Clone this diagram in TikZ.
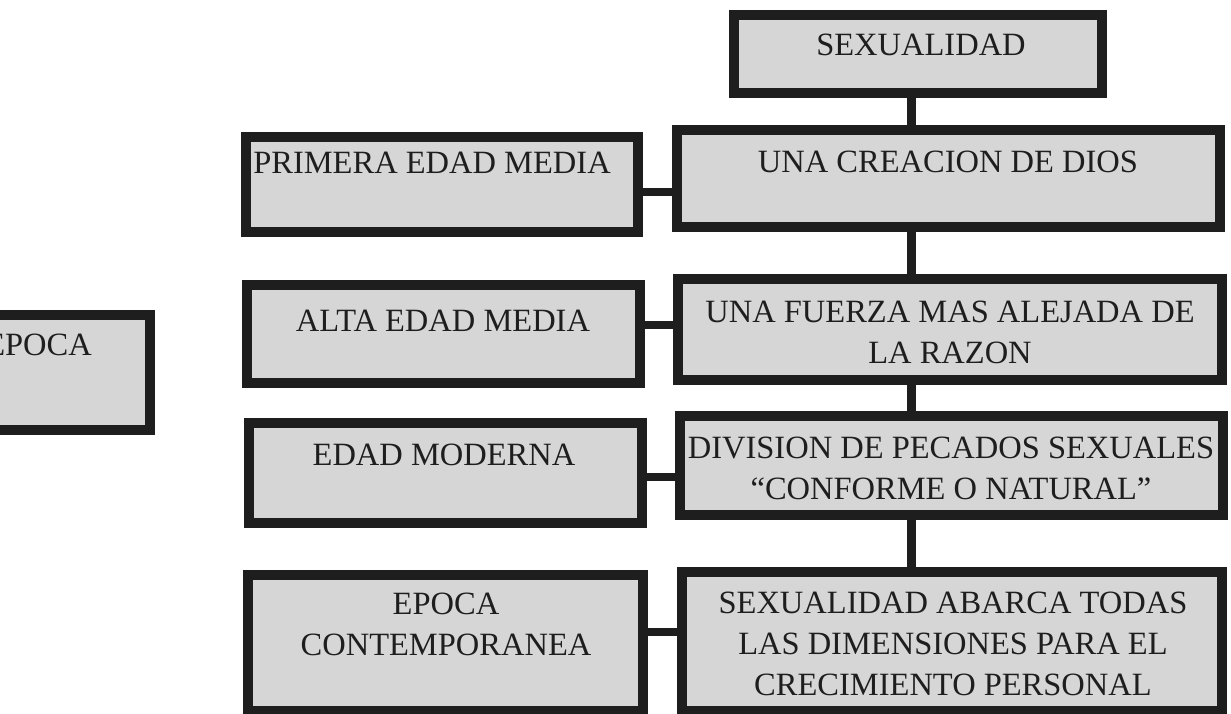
\documentclass[tikz,border=0pt]{standalone}
\usepackage{fontspec}
\setmainfont{Liberation Serif}
\definecolor{boxfill}{RGB}{214,214,214}
\definecolor{ink}{RGB}{30,30,30}
\begin{document}
\begin{tikzpicture}[x=1pt,y=-1pt,
  framebox/.style={draw=ink,fill=boxfill,line width=10pt,rectangle,inner sep=0pt},
  boxtext/.style={inner sep=0pt,align=center,text=ink,font=\fontsize{32.5}{41}\selectfont},
  link/.style={draw=ink,line width=9pt}]
\useasboundingbox (0,0) rectangle (1231,714);
\clip (0,0) rectangle (1231,714);
% boxes (outer size = minimum size + 10)
\node[framebox,minimum width=368pt,minimum height=78pt] (sex) at (918,54) {};
\node[framebox,minimum width=543pt,minimum height=97pt] (una) at (948.5,178.5) {};
\node[framebox,minimum width=392pt,minimum height=95pt] (prim) at (442,184.5) {};
\node[framebox,minimum width=393pt,minimum height=98pt] (alta) at (443.5,334) {};
\node[framebox,minimum width=544pt,minimum height=101pt] (fuer) at (950,329.5) {};
\node[framebox,minimum width=393pt,minimum height=100pt] (mode) at (445.5,473) {};
\node[framebox,minimum width=543pt,minimum height=99pt] (divi) at (951.5,465.5) {};
\node[framebox,minimum width=395pt,minimum height=136pt] (cont) at (445.5,643) {};
\node[framebox,minimum width=540pt,minimum height=139pt] (abar) at (952,641.5) {};
\node[framebox,minimum width=295pt,minimum height=115pt] (epoc) at (2.5,372.5) {};
% texts
\node[boxtext,anchor=base] (tsex) at (921,56) {SEXUALIDAD};
\node[boxtext,anchor=base] (tuna) at (948,173) {UNA CREACION DE DIOS};
\node[boxtext,anchor=base] (tprim) at (432,174) {PRIMERA EDAD MEDIA};
\node[boxtext,anchor=base] (talta) at (443,331) {ALTA EDAD MEDIA};
\node[boxtext,anchor=base] (tmode) at (444,465) {EDAD MODERNA};
\node[boxtext,anchor=base east] (tepoc) at (92,355) {EPOCA};
\node[boxtext] (tfuer) at (950,332) {UNA FUERZA MAS ALEJADA DE\\LA RAZON};
\node[boxtext] (tdivi) at (951,468) {DIVISION DE PECADOS SEXUALES\\``CONFORME O NATURAL''};
\node[boxtext] (tabar) at (953,644) {SEXUALIDAD ABARCA TODAS\\LAS DIMENSIONES PARA EL\\CRECIMIENTO PERSONAL};
\node[boxtext] (tcont) at (446,624) {EPOCA\\CONTEMPORANEA};
% connector guides
\coordinate (vx) at (911,0);
\coordinate (h1) at (0,192);
\coordinate (h2) at (0,325);
\coordinate (h3) at (0,477);
\coordinate (h4) at (0,632);
% vertical connectors
\draw[link] (sex.south -| vx) -- (una.north -| vx);
\draw[link] (una.south -| vx) -- (fuer.north -| vx);
\draw[link] (fuer.south -| vx) -- (divi.north -| vx);
\draw[link] (divi.south -| vx) -- (abar.north -| vx);
% horizontal connectors
\draw[link,line width=8pt] (prim.east |- h1) -- (una.west |- h1);
\draw[link,line width=8pt] (alta.east |- h2) -- (fuer.west |- h2);
\draw[link,line width=8pt] (mode.east |- h3) -- (divi.west |- h3);
\draw[link,line width=8pt] (cont.east |- h4) -- (abar.west |- h4);
\end{tikzpicture}
\end{document}
